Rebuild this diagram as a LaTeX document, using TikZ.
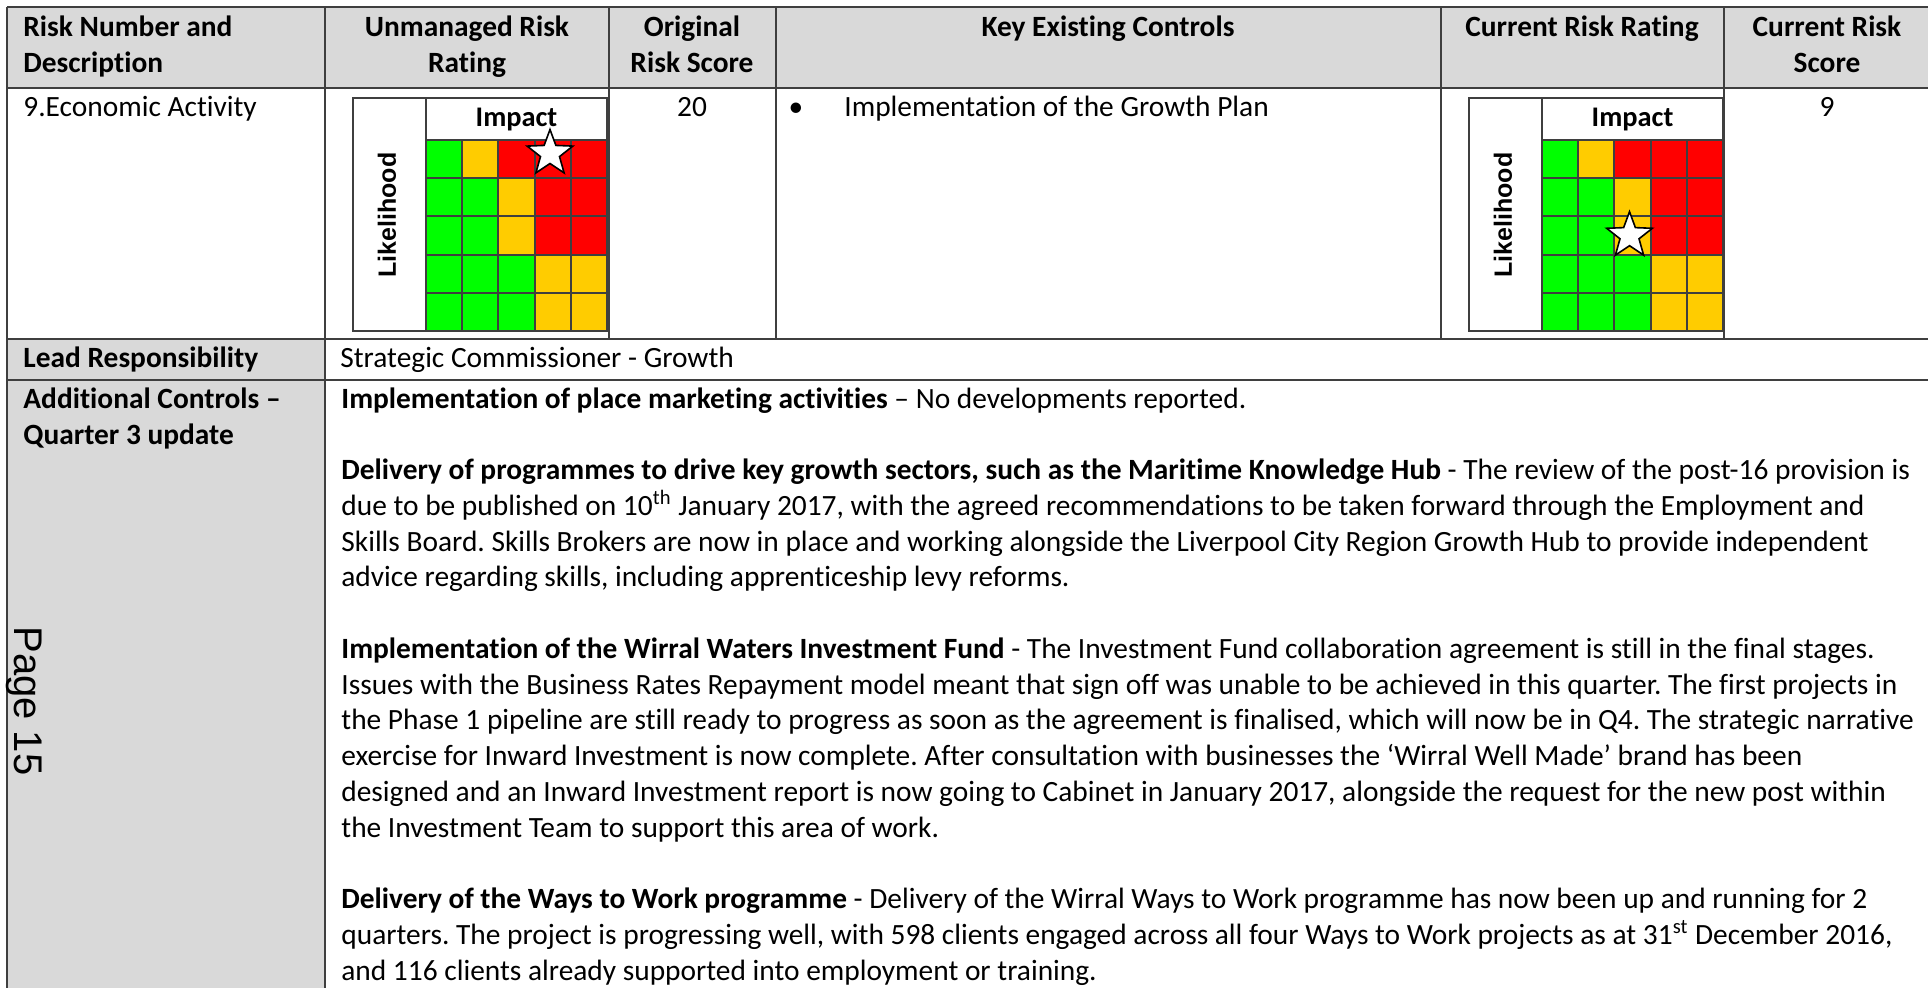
\documentclass[tikz,border=0pt]{standalone}
\usepackage{fontspec}
\setmainfont{Carlito}[Ligatures=NoCommon]
\newfontfamily\arialfont{Liberation Sans}
\usetikzlibrary{shapes.geometric}
\frenchspacing

\definecolor{hdrgrey}{HTML}{D9D9D9}
\definecolor{rulegrey}{HTML}{3F3F3F}
\definecolor{riskgreen}{HTML}{00FF00}
\definecolor{riskamber}{HTML}{FFCC00}
\definecolor{riskred}{HTML}{FF0000}

\begin{document}
\begin{tikzpicture}[x=0.5pt, y=-0.5pt, every node/.style={inner sep=0, font=\fontsize{14.7}{18}\selectfont},
  hdr/.style={anchor=base, font=\fontsize{14.7}{18}\selectfont\bfseries},
  hdrleft/.style={hdr, anchor=base west},
  cell/.style={anchor=base west},
  num/.style={anchor=base},
  rule/.style={draw=rulegrey, line width=1pt},
  impact/.style={anchor=base, font=\fontsize{14.2}{18}\selectfont\bfseries},
  likely/.style={rotate=90, font=\arialfont\fontsize{12.5}{14}\selectfont\bfseries},
  starmark/.style={star, star points=5, star point ratio=2.4, minimum size=24pt, fill=white, draw=black, line width=0.8pt}]

  \useasboundingbox (0,0) rectangle (1928,987);
  \clip (0,0) rectangle (1928,987);

  % Fills
  \fill[hdrgrey] (7,7) rectangle (1932,88);
  \fill[hdrgrey] (7,339) rectangle (325,990);

  % Risk matrices
  \foreach \gx/\nm in {353/unm, 1469/cur} {
    \foreach \row [count=\j from 0] in {{green,amber,red,red,red},{green,green,amber,red,red},{green,green,amber,red,red},{green,green,green,amber,amber},{green,green,green,amber,amber}} {
      \foreach \clr [count=\i from 0] in \row
        \filldraw[fill=risk\clr, rule] (\gx+73+\i*36.2, 140+\j*38.2) rectangle ++(36.2,38.2);
    }
    \draw[rule] (\gx,98) rectangle (\gx+254,331);
    \draw[rule] (\gx+73,98) -- (\gx+73,331);
    \draw[rule] (\gx+73,140) -- (\gx+254,140);
    \node[impact] (impact-\nm) at (\gx+163.5,126) {Impact};
    \node[likely] (likely-\nm) at (\gx+34,215) {Likelihood};
  }
  \node[starmark] (star-unm) at (550,153.5) {};
  \node[starmark] (star-cur) at (1629.5,235.7) {};

  % Rules
  \draw[rule] (7,7) -- (1932,7);
  \draw[rule] (7,88) -- (1932,88);
  \draw[rule] (7,339) -- (1932,339);
  \draw[rule] (7,380) -- (1932,380);
  \draw[rule] (7,7) -- (7,990);
  \draw[rule] (325,7) -- (325,990);
  \foreach \vx in {609,776,1441,1724}
    \draw[rule] (\vx,7) -- (\vx,339);

  % Header
  \node[hdrleft] (hd-risk) at (23,36) {Risk Number and};
  \node[hdrleft] (hd-desc) at (23,72) {Description};
  \foreach \cx/\la/\lb [count=\k] in {467/Unmanaged Risk/Rating, 692/Original/Risk Score, 1827/Current Risk/Score} {
    \node[hdr] (hdtop\k) at (\cx,36) {\la};
    \node[hdr] (hdbot\k) at (\cx,72) {\lb};
  }
  \node[hdr] (hd-controls) at (1108,36) {Key Existing Controls};
  \node[hdr] (hd-current) at (1582,36) {Current Risk Rating};

  % Risk row
  \node[cell] (risk-name) at (23,116) {9.Economic Activity};
  \node[num] (score-orig) at (692,116) {20};
  \node[num] (bullet) at (796,116) {\textbullet};
  \node[cell] (control) at (844,116) {Implementation of the Growth Plan};
  \node[num] (score-cur) at (1827,116) {9};

  % Lead and updates
  \node[hdrleft] (lead) at (23,367) {Lead Responsibility};
  \node[cell] (lead-name) at (340,367) {Strategic Commissioner - Growth};
  \node[hdrleft] (addl-a) at (23,408) {Additional Controls –};
  \node[hdrleft] (addl-b) at (23,444) {Quarter 3 update};
  \foreach \ln [count=\k from 0] in {
    {\textbf{Implementation of place marketing activities} – No developments reported.},
    {},
    {\textbf{Delivery of programmes to drive key growth sectors, such as the Maritime Knowledge Hub} - The review of the post-16 provision is},
    {due to be published on 10\textsuperscript{th} January 2017, with the agreed recommendations to be taken forward through the Employment and},
    {Skills Board. Skills Brokers are now in place and working alongside the Liverpool City Region Growth Hub to provide independent},
    {advice regarding skills, including apprenticeship levy reforms.},
    {},
    {\textbf{Implementation of the Wirral Waters Investment Fund} - The Investment Fund collaboration agreement is still in the final stages.},
    {Issues with the Business Rates Repayment model meant that sign off was unable to be achieved in this quarter. The first projects in},
    {the Phase 1 pipeline are still ready to progress as soon as the agreement is finalised, which will now be in Q4. The strategic narrative},
    {exercise for Inward Investment is now complete. After consultation with businesses the ‘Wirral Well Made’ brand has been},
    {designed and an Inward Investment report is now going to Cabinet in January 2017, alongside the request for the new post within},
    {the Investment Team to support this area of work.},
    {},
    {\textbf{Delivery of the Ways to Work programme} - Delivery of the Wirral Ways to Work programme has now been up and running for 2},
    {quarters. The project is progressing well, with 598 clients engaged across all four Ways to Work projects as at 31\textsuperscript{st} December 2016,},
    {and 116 clients already supported into employment or training.}}
    \node[cell] (upd\k) at (341,408+\k*35.75) {\ln};

  \node[rotate=-90, anchor=base west, font=\arialfont\fontsize{20}{24}\selectfont] (page) at (14,626) {Page 15};

\end{tikzpicture}
\end{document}
